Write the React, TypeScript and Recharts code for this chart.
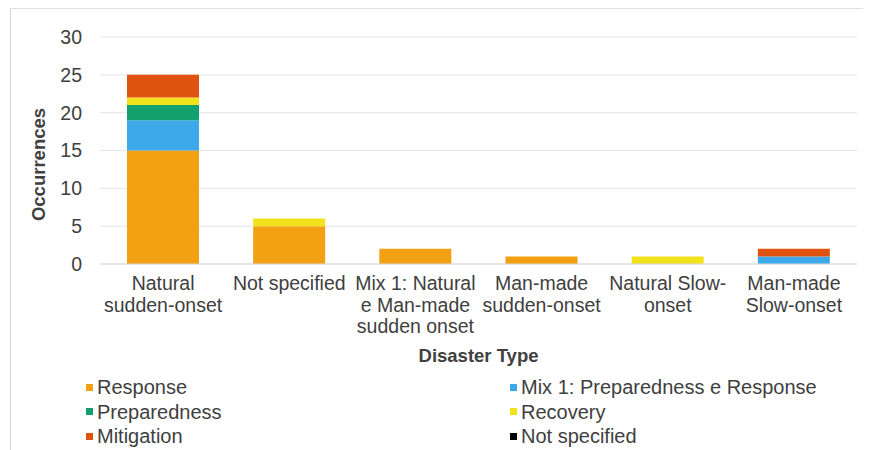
import React from 'react';
import { BarChart, Bar, XAxis, YAxis, CartesianGrid } from 'recharts';

const categories = [
  'Natural\nsudden-onset',
  'Not specified',
  'Mix 1: Natural\ne Man-made\nsudden onset',
  'Man-made\nsudden-onset',
  'Natural Slow-\nonset',
  'Man-made\nSlow-onset',
];

const response = [15, 5, 2, 1, 0, 0];
const mix1PrepResp = [4, 0, 0, 0, 0, 1];
const preparedness = [2, 0, 0, 0, 0, 0];
const recovery = [1, 1, 0, 0, 1, 0];
const mitigation = [3, 0, 0, 0, 0, 1];
const notSpecified = [0, 0, 0, 0, 0, 0];

const yTicks = [0, 5, 10, 15, 20, 25, 30];

const series = [
  { key: 'response', name: 'Response', values: response, color: '#F3A012' },
  { key: 'mix1', name: 'Mix 1: Preparedness e Response', values: mix1PrepResp, color: '#3DA9EA' },
  { key: 'preparedness', name: 'Preparedness', values: preparedness, color: '#12A06E' },
  { key: 'recovery', name: 'Recovery', values: recovery, color: '#F2E21C' },
  { key: 'mitigation', name: 'Mitigation', values: mitigation, color: '#E0520F' },
  { key: 'notSpecified', name: 'Not specified', values: notSpecified, color: '#000000' },
];

const data = categories.map((c, i) => {
  const row: Record<string, string | number> = { category: c };
  series.forEach((s) => {
    row[s.key] = s.values[i];
  });
  return row;
});

const FONT = '"Liberation Sans", Arial, sans-serif';
const TEXT = '#404040';

const XTick = (props: any) => {
  const { x, y, payload } = props;
  const lines = String(payload.value).split('\n');
  return (
    <text x={x} y={y + 18} textAnchor="middle" fill={TEXT} fontSize={19.5} fontFamily={FONT}>
      {lines.map((l, i) => (
        <tspan key={i} x={x} dy={i === 0 ? 0 : 21.5}>
          {l}
        </tspan>
      ))}
    </text>
  );
};

const LegendBlock = () => (
  <div
    style={{
      position: 'absolute',
      left: 0,
      top: 375,
      width: 870,
      display: 'grid',
      gridTemplateColumns: '424px auto',
      paddingLeft: 86,
      boxSizing: 'border-box',
      fontFamily: FONT,
      fontSize: 20,
      color: TEXT,
      lineHeight: '24.5px',
    }}
  >
    {series.map((s) => (
      <div key={s.key} style={{ display: 'flex', alignItems: 'center', whiteSpace: 'nowrap' }}>
        <span style={{ width: 7, height: 7, background: s.color, display: 'inline-block', marginRight: 4 }} />
        <span>{s.name}</span>
      </div>
    ))}
  </div>
);

export default function App() {
  return (
    <div style={{ position: 'absolute', left: 0, top: 0, width: 870, height: 450, background: '#fff' }}>
      <div
        style={{
          position: 'absolute',
          left: 10,
          top: 8,
          width: 852,
          height: 450,
          borderLeft: '1px solid #d4d4d4',
          borderTop: '1px solid #e0e0e0',
        }}
      />
      <div style={{ position: 'absolute', left: 0, top: 0 }}>
        <BarChart
          width={870}
          height={450}
          data={data}
          margin={{ top: 37, right: 13, left: 0, bottom: 86 }}
          barSize={72}
        >
          <CartesianGrid vertical={false} stroke="#e4e4e4" />
          <XAxis
            dataKey="category"
            height={100}
            interval={0}
            tickLine={false}
            axisLine={{ stroke: '#d9d9d9' }}
            tick={<XTick />}
            label={(p: any) => {
              const vb = p.viewBox;
              return (
                <text
                  x={vb.x + vb.width / 2}
                  y={vb.y + 98}
                  textAnchor="middle"
                  fill={TEXT}
                  fontSize={18.5}
                  fontWeight="bold"
                  fontFamily={FONT}
                >
                  Disaster Type
                </text>
              );
            }}
          />
          <YAxis
            width={100}
            domain={[0, 30]}
            ticks={yTicks}
            interval={0}
            tickLine={false}
            axisLine={false}
            tickMargin={12}
            tick={{ fill: TEXT, fontSize: 19.5, fontFamily: FONT }}
            label={(p: any) => {
              const vb = p.viewBox;
              const cx = vb.x + 38;
              const cy = vb.y + vb.height / 2 + 14;
              return (
                <text
                  x={cx}
                  y={cy}
                  transform={`rotate(-90 ${cx} ${cy})`}
                  textAnchor="middle"
                  dominantBaseline="central"
                  fill={TEXT}
                  fontSize={18.5}
                  fontWeight="bold"
                  fontFamily={FONT}
                >
                  Occurrences
                </text>
              );
            }}
          />
          {series.map((s) => (
            <Bar key={s.key} dataKey={s.key} name={s.name} stackId="a" fill={s.color} isAnimationActive={false} />
          ))}
        </BarChart>
      </div>
      <LegendBlock />
    </div>
  );
}
